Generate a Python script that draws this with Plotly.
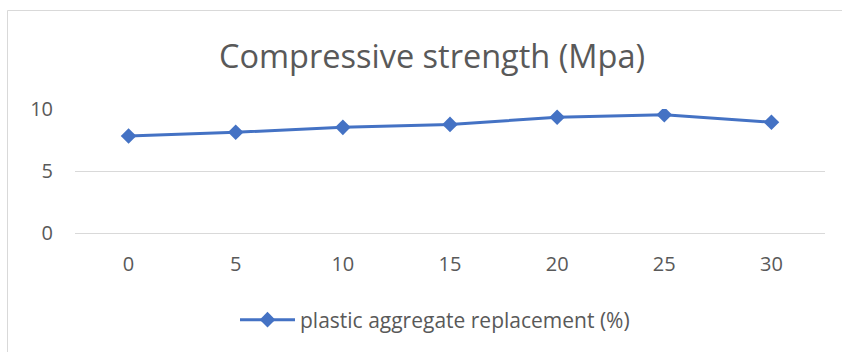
import plotly.graph_objects as go

categories = ["0", "5", "10", "15", "20", "25", "30"]
strength = [7.82, 8.12, 8.52, 8.76, 9.33, 9.54, 8.93]
y_ticks = [0, 5, 10]
series_name = "plastic aggregate replacement (%)"
title_text = "Compressive strength (Mpa)"

W, H = 842, 352
font_family = "Open Sans"
grey = "#595959"
L, R, T, B = 75, 825, 109, 233

fig = go.Figure()
fig.add_trace(go.Scatter(
    x=categories, y=strength, mode="lines+markers", name=series_name,
    line=dict(color="#4472C4", width=3),
    marker=dict(symbol="diamond", size=12, color="#4472C4"),
))

fig.update_layout(
    width=W, height=H,
    margin=dict(l=L, r=W - R, t=T, b=H - B),
    paper_bgcolor="white", plot_bgcolor="white",
    font=dict(family=font_family, color=grey, size=20),
    title=dict(text=title_text, x=432 / W, xanchor="center", xref="container",
               y=1 - 57 / H, yanchor="middle", yref="container",
               font=dict(size=32.5, color=grey, family=font_family)),
    showlegend=True,
    legend=dict(orientation="h", x=435 / W, xanchor="center", xref="container",
                y=1 - 320 / H, yanchor="middle", yref="container", itemwidth=55,
                font=dict(size=21, color=grey), bgcolor="rgba(0,0,0,0)"),
    xaxis=dict(type="category", range=[-0.5, 6.5], showgrid=False, showline=False,
               ticks="", ticklabelstandoff=17, tickfont=dict(size=20, color=grey)),
    yaxis=dict(range=[0, 10], tickvals=y_ticks, showgrid=True, gridcolor="#D9D9D9",
               gridwidth=1, zeroline=True, zerolinecolor="#D9D9D9", zerolinewidth=1,
               showline=False, ticks="", ticklabelstandoff=21,
               tickfont=dict(size=20, color=grey)),
    shapes=[dict(type="rect", xref="paper", yref="paper",
                 x0=(7.5 - L) / (R - L), x1=(870 - L) / (R - L),
                 y0=-(400 - B) / (B - T), y1=(B - 10.5) / (B - T),
                 line=dict(color="#D9D9D9", width=1), fillcolor="rgba(0,0,0,0)",
                 layer="below")],
)

fig.write_html("out.html", config={"displayModeBar": False},
               post_script="document.body.style.margin='0px';")
